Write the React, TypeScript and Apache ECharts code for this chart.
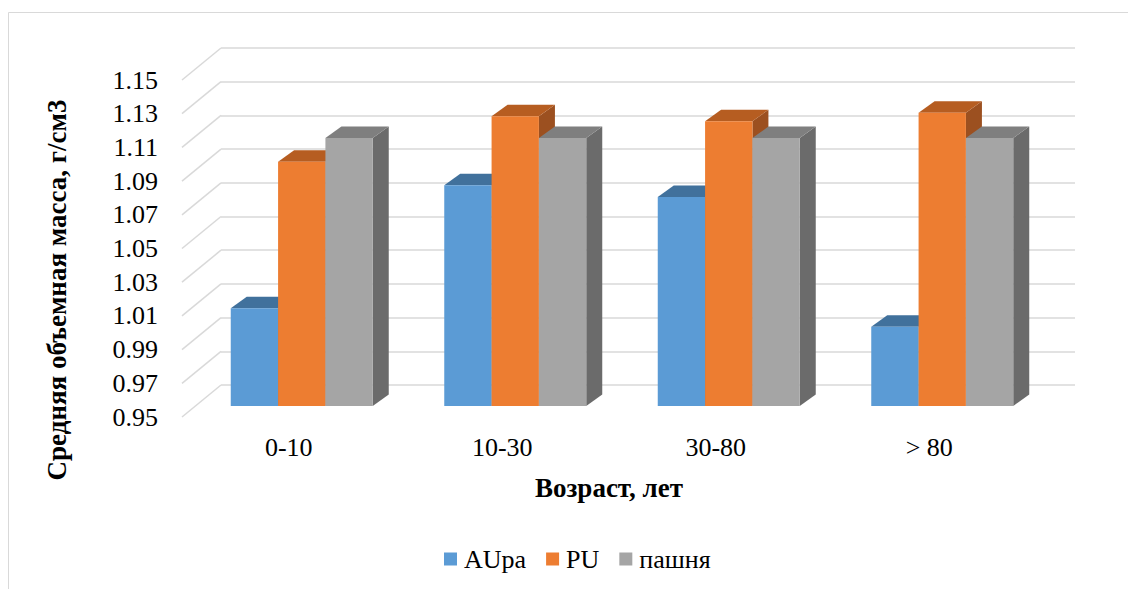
import React, { useEffect, useRef } from "react";
import * as echarts from "echarts";

// ---- data ----
const categories = ["0-10", "10-30", "30-80", "> 80"];
const seriesNames = ["AUpa", "PU", "пашня"];
const auPa = [1.008, 1.081, 1.074, 0.997];
const pu = [1.095, 1.122, 1.119, 1.124];
const pashnya = [1.109, 1.109, 1.109, 1.109];
const yTicks = [0.95, 0.97, 0.99, 1.01, 1.03, 1.05, 1.07, 1.09, 1.11, 1.13, 1.15];
const yMin = 0.95;
const yMax = 1.15;
const yStep = 0.02;
const yTitle = "Средняя объемная масса, г/см3";
const xTitle = "Возраст, лет";

// ---- styles ----
const FONT = "Liberation Serif";
const LABEL_SIZE = 26;
const TITLE_SIZE = 27;
const faces = [
  { front: "#5B9BD5", top: "#41719C", side: "#3A6892" },
  { front: "#ED7D31", top: "#B65D21", side: "#9C5020" },
  { front: "#A5A5A5", top: "#7F7F7F", side: "#6B6B6B" },
];
const PLOT_W = 854;
const PLOT_H = 337;
const BACK = { left: 221, top: 48 };
const BARP = { left: 195, top: 69 };
const FRONT = { left: 182, top: 80 };
const DEPTH_DX = 16;
const DEPTH_DY = -11.5;
const BAR_FRAC = 0.2217;

const seriesValues = [auPa, pu, pashnya];

function makeBarRender(si: number) {
  const f = faces[si];
  return (params: any, api: any) => {
    const cat = api.value(0);
    const val = api.value(1);
    const band = api.size([1, 0])[0];
    const bw = band * BAR_FRAC;
    const c = api.coord([cat, val]);
    const b = api.coord([cat, yMin]);
    const x0 = c[0] + (si - 1.5) * bw;
    const x1 = x0 + bw;
    const yT = c[1];
    const yB = b[1];
    return {
      type: "group",
      children: [
        {
          type: "polygon",
          shape: { points: [[x1, yT], [x1 + DEPTH_DX, yT + DEPTH_DY], [x1 + DEPTH_DX, yB + DEPTH_DY], [x1, yB]] },
          style: { fill: f.side },
        },
        {
          type: "polygon",
          shape: { points: [[x0, yT], [x0 + DEPTH_DX, yT + DEPTH_DY], [x1 + DEPTH_DX, yT + DEPTH_DY], [x1, yT]] },
          style: { fill: f.top },
        },
        {
          type: "rect",
          shape: { x: x0, y: yT, width: bw, height: yB - yT },
          style: { fill: f.front },
        },
      ],
    };
  };
}

export default function App() {
  const ref = useRef<HTMLDivElement>(null);
  useEffect(() => {
    if (!ref.current) return;
    const chart = echarts.init(ref.current, null, { renderer: "svg" });
    const wallDx = FRONT.left - BACK.left;
    const wallDy = FRONT.top - BACK.top;
    const option: any = {
      animation: false,
      backgroundColor: "#ffffff",
      textStyle: { fontFamily: FONT },
      grid: [
        { left: BACK.left, top: BACK.top, width: PLOT_W, height: PLOT_H },
        { left: BARP.left, top: BARP.top, width: PLOT_W, height: PLOT_H },
        { left: FRONT.left, top: FRONT.top, width: PLOT_W, height: PLOT_H },
      ],
      xAxis: [
        { gridIndex: 0, type: "category", data: categories, show: false },
        { gridIndex: 1, type: "category", data: categories, show: false },
        {
          gridIndex: 2,
          type: "category",
          data: categories,
          axisLine: { show: false },
          axisTick: { show: false },
          axisLabel: { fontSize: LABEL_SIZE, fontFamily: FONT, color: "#000", margin: 17 },
          name: xTitle,
          nameLocation: "middle",
          nameGap: 57,
          nameTextStyle: { fontSize: TITLE_SIZE, fontWeight: "bold", fontFamily: FONT, color: "#000" },
        },
      ],
      yAxis: [
        {
          gridIndex: 0,
          type: "value",
          min: yMin,
          max: yMax,
          interval: yStep,
          axisLine: { show: false },
          axisTick: { show: false },
          axisLabel: { show: false },
          splitLine: { show: true, lineStyle: { color: "#d9d9d9", width: 1.5 } },
        },
        { gridIndex: 1, type: "value", min: yMin, max: yMax, interval: yStep, show: false, splitLine: { show: false } },
        {
          gridIndex: 2,
          type: "value",
          min: yMin,
          max: yMax,
          interval: yStep,
          axisLine: { show: false },
          axisTick: { show: false },
          splitLine: { show: false },
          axisLabel: {
            fontSize: LABEL_SIZE,
            fontFamily: FONT,
            color: "#000",
            margin: 24,
            formatter: (v: number) => v.toFixed(2),
          },
        },
      ],
      legend: {
        data: seriesNames,
        left: 444,
        top: 546,
        padding: 0,
        icon: "rect",
        itemWidth: 13,
        itemHeight: 13,
        itemGap: 20,
        textStyle: { fontSize: LABEL_SIZE, fontFamily: FONT, color: "#000", padding: [0, 0, 0, 2] },
      },
      graphic: [
        {
          type: "rect",
          z: -10,
          shape: { x: 8.5, y: 12.5, width: 1200, height: 700 },
          style: { fill: "none", stroke: "#d9d9d9", lineWidth: 1 },
        },
        {
          type: "text",
          x: 57,
          y: 290,
          rotation: Math.PI / 2,
          style: {
            text: yTitle,
            fontSize: TITLE_SIZE,
            fontWeight: "bold",
            fontFamily: FONT,
            fill: "#000",
            align: "center",
            verticalAlign: "middle",
          },
        },
      ],
      series: [
        {
          type: "custom",
          name: "wall",
          xAxisIndex: 0,
          yAxisIndex: 0,
          silent: true,
          data: yTicks.map((v) => [0, v]),
          encode: { x: 0, y: 1 },
          renderItem: (params: any, api: any) => {
            const p = api.coord([0, api.value(1)]);
            const x = params.coordSys.x;
            return {
              type: "line",
              shape: { x1: x, y1: p[1], x2: x + wallDx, y2: p[1] + wallDy },
              style: { stroke: "#d9d9d9", lineWidth: 1.5 },
            };
          },
        },
        ...seriesNames.map((name, si) => ({
          type: "custom",
          name,
          xAxisIndex: 1,
          yAxisIndex: 1,
          itemStyle: { color: faces[si].front },
          data: seriesValues[si].map((v, i) => [i, v]),
          encode: { x: 0, y: 1 },
          renderItem: makeBarRender(si),
        })),
      ],
    };
    chart.setOption(option);
    return () => chart.dispose();
  }, []);
  return (
    <div
      ref={ref}
      style={{ position: "fixed", left: 0, top: 0, width: 1128, height: 589 }}
    />
  );
}
